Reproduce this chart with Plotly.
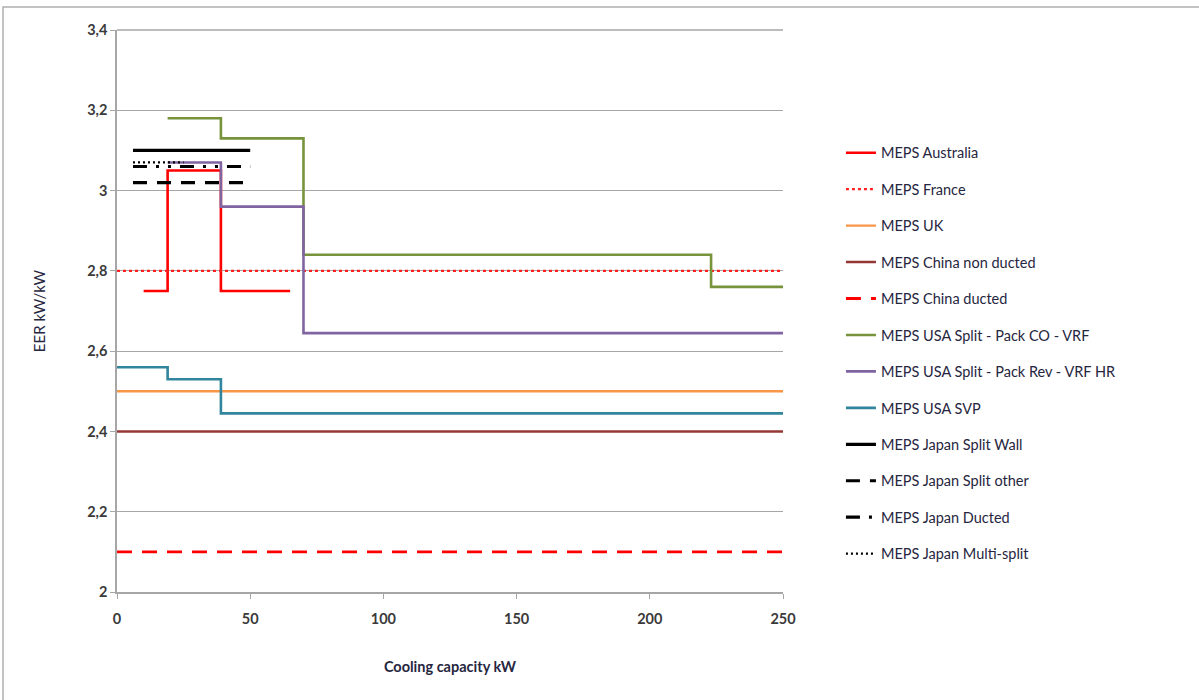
import plotly.graph_objects as go

# Minimum energy performance standards (EER, kW/kW) against cooling capacity (kW)
aus_x = [10, 19, 19, 39, 39, 65]
aus_y = [2.75, 2.75, 3.05, 3.05, 2.75, 2.75]

france_x = [0, 250]
france_y = [2.8, 2.8]

uk_x = [0, 250]
uk_y = [2.5, 2.5]

china_nd_x = [0, 250]
china_nd_y = [2.4, 2.4]

china_d_x = [0, 250]
china_d_y = [2.1, 2.1]

usa_co_x = [19, 39, 39, 70, 70, 223, 223, 250]
usa_co_y = [3.18, 3.18, 3.13, 3.13, 2.84, 2.84, 2.76, 2.76]

usa_rev_x = [19, 39, 39, 70, 70, 250]
usa_rev_y = [3.07, 3.07, 2.96, 2.96, 2.645, 2.645]

usa_svp_x = [0, 19, 19, 39, 39, 250]
usa_svp_y = [2.56, 2.56, 2.53, 2.53, 2.445, 2.445]

jp_wall_x = [6, 50]
jp_wall_y = [3.10, 3.10]

jp_other_x = [6, 50]
jp_other_y = [3.02, 3.02]

jp_ducted_x = [6, 50]
jp_ducted_y = [3.06, 3.06]

jp_multi_x = [6, 25]
jp_multi_y = [3.07, 3.07]

y_ticks = [2.0, 2.2, 2.4, 2.6, 2.8, 3.0, 3.2, 3.4]
y_tick_text = ["2", "2,2", "2,4", "2,6", "2,8", "3", "3,2", "3,4"]
x_ticks = [0, 50, 100, 150, 200, 250]

series = [
    ("MEPS Australia", aus_x, aus_y, "#ff0000", "solid", 2.6),
    ("MEPS France", france_x, france_y, "#ff2020", "3px,3px", 2.2),
    ("MEPS UK", uk_x, uk_y, "#f79646", "solid", 2.4),
    ("MEPS China non ducted", china_nd_x, china_nd_y, "#953735", "solid", 2.6),
    ("MEPS China ducted", china_d_x, china_d_y, "#ff0000", "15px,10px", 2.8),
    ("MEPS USA Split - Pack CO - VRF", usa_co_x, usa_co_y, "#77933c", "solid", 2.6),
    ("MEPS USA Split - Pack Rev - VRF HR", usa_rev_x, usa_rev_y, "#8064a2", "solid", 2.6),
    ("MEPS USA SVP", usa_svp_x, usa_svp_y, "#31859c", "solid", 2.6),
    ("MEPS Japan Split Wall", jp_wall_x, jp_wall_y, "#000000", "solid", 3.2),
    ("MEPS Japan Split other", jp_other_x, jp_other_y, "#000000", "14px,10px", 3.2),
    ("MEPS Japan Ducted", jp_ducted_x, jp_ducted_y, "#000000", "14px,9px,3px,9px,3px,9px", 3.2),
    ("MEPS Japan Multi-split", jp_multi_x, jp_multi_y, "#000000", "2px,3px", 2.2),
]

fig = go.Figure()
for i, (name, xs, ys, color, dash, width) in enumerate(series):
    fig.add_trace(go.Scatter(
        x=xs, y=ys, mode="lines", name=name,
        line=dict(color=color, dash=dash, width=width),
        legendgroup=f"g{i}",
    ))

text_font = dict(family="Lato, 'Open Sans', sans-serif", color="#262640")
tick_font = dict(size=14.5, family="Lato, sans-serif", color="#3a3a3a", weight="bold")

fig.update_layout(
    width=1199, height=700,
    margin=dict(l=117, r=416, t=30, b=108),
    paper_bgcolor="white", plot_bgcolor="white",
    separators=", ",
    showlegend=True,
    legend=dict(
        x=1.087, y=0.81, xanchor="left", yanchor="top",
        font=dict(size=14.5, **text_font),
        tracegroupgap=14.6,
        bgcolor="rgba(0,0,0,0)",
    ),
    xaxis=dict(
        range=[0, 250], tickvals=x_ticks,
        showgrid=False, zeroline=False,
        showline=True, linecolor="#a6a6a6", linewidth=1.5,
        ticks="outside", ticklen=5, tickcolor="#a6a6a6",
        ticklabelstandoff=8,
        tickfont=tick_font,
        title=dict(text="<b>Cooling capacity kW</b>", font=dict(size=14.5, **text_font), standoff=36),
    ),
    yaxis=dict(
        range=[2.0, 3.4], tickvals=y_ticks, ticktext=y_tick_text,
        showgrid=True, gridcolor="#a6a6a6", gridwidth=1,
        zeroline=False,
        showline=True, linecolor="#a6a6a6", linewidth=1.5,
        ticks="outside", ticklen=5, tickcolor="#a6a6a6",
        tickfont=tick_font,
        title=dict(text="EER kW/kW", font=dict(size=15, **text_font), standoff=38),
    ),
    shapes=[
        # outer chart border
        dict(
            type="rect", xref="paper", yref="paper",
            x0=(3 - 117) / 666, x1=(1215 - 117) / 666,
            y0=-(715 - 592) / 562, y1=(592 - 7) / 562,
            line=dict(color="#b0b0b0", width=1.5), fillcolor="rgba(0,0,0,0)", layer="below",
        ),
        # top gridline at the upper edge of the value axis
        dict(
            type="line", xref="x domain", yref="y domain",
            x0=0, x1=1, y0=1, y1=1,
            line=dict(color="#a6a6a6", width=1.5), layer="below",
        ),
    ],
)

fig.write_html("out.html")
